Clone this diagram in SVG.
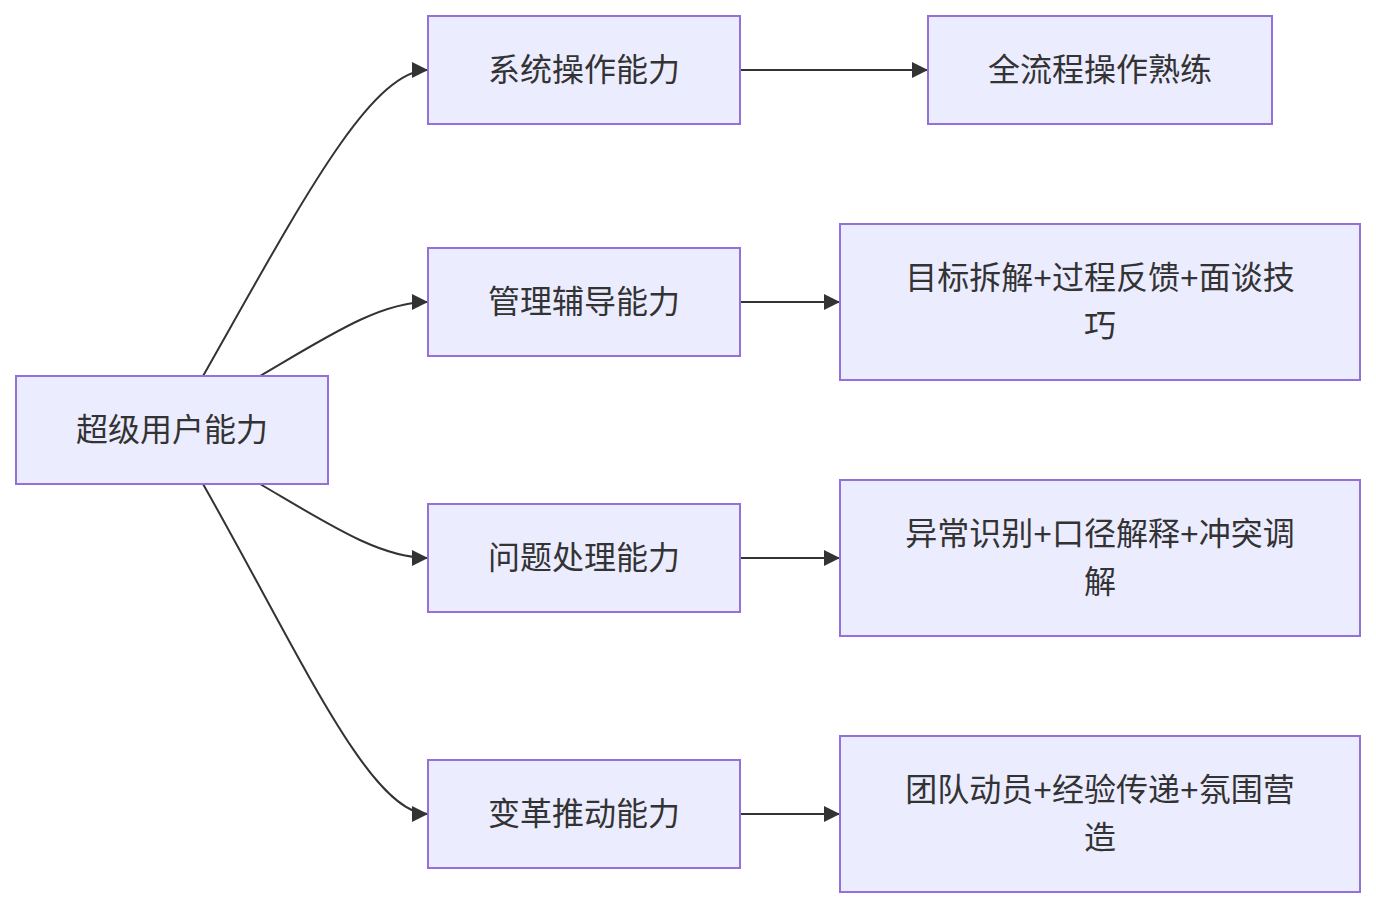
<svg xmlns="http://www.w3.org/2000/svg" width="1376" height="908" viewBox="0 0 1376 908">
<style>
.node rect{fill:#ECECFF;stroke:#9370DB;stroke-width:2}
.node text{font-family:"Liberation Sans","Noto Sans CJK SC",sans-serif;font-size:32px;fill:#333;text-anchor:middle;dominant-baseline:central}
.edges path{fill:none;stroke:#333;stroke-width:2}
</style>
<defs>
<marker id="arr" markerUnits="userSpaceOnUse" markerWidth="16" markerHeight="16" refX="16" refY="8" orient="auto" viewBox="0 0 16 16">
<path d="M0,0 L16,8 L0,16 Z" fill="#333"/>
</marker>
</defs>
<rect width="1376" height="908" fill="#fff"/>
<g class="edges">
<path d="M203,376 C300,205 370,70 428,70" marker-end="url(#arr)"/>
<path d="M260,376 C330,335 380,302 428,302" marker-end="url(#arr)"/>
<path d="M260,484 C330,525 380,558 428,558" marker-end="url(#arr)"/>
<path d="M203,484 C300,655 370,814 428,814" marker-end="url(#arr)"/>
<path d="M740,70 L928,70" marker-end="url(#arr)"/>
<path d="M740,302 L840,302" marker-end="url(#arr)"/>
<path d="M740,558 L840,558" marker-end="url(#arr)"/>
<path d="M740,814 L840,814" marker-end="url(#arr)"/>
</g>
<g id="A" class="node"><rect x="16" y="376" width="312" height="108"/><text x="172" y="430">超级用户能力</text></g>
<g id="B1" class="node"><rect x="428" y="16" width="312" height="108"/><text x="584" y="70">系统操作能力</text></g>
<g id="B2" class="node"><rect x="428" y="248" width="312" height="108"/><text x="584" y="302">管理辅导能力</text></g>
<g id="B3" class="node"><rect x="428" y="504" width="312" height="108"/><text x="584" y="558">问题处理能力</text></g>
<g id="B4" class="node"><rect x="428" y="760" width="312" height="108"/><text x="584" y="814">变革推动能力</text></g>
<g id="C1" class="node"><rect x="928" y="16" width="344" height="108"/><text x="1100" y="70">全流程操作熟练</text></g>
<g id="C2" class="node"><rect x="840" y="224" width="520" height="156"/><text x="1100" y="278">目标拆解+过程反馈+面谈技</text><text x="1100" y="326">巧</text></g>
<g id="C3" class="node"><rect x="840" y="480" width="520" height="156"/><text x="1100" y="534">异常识别+口径解释+冲突调</text><text x="1100" y="582">解</text></g>
<g id="C4" class="node"><rect x="840" y="736" width="520" height="156"/><text x="1100" y="790">团队动员+经验传递+氛围营</text><text x="1100" y="838">造</text></g>
</svg>
